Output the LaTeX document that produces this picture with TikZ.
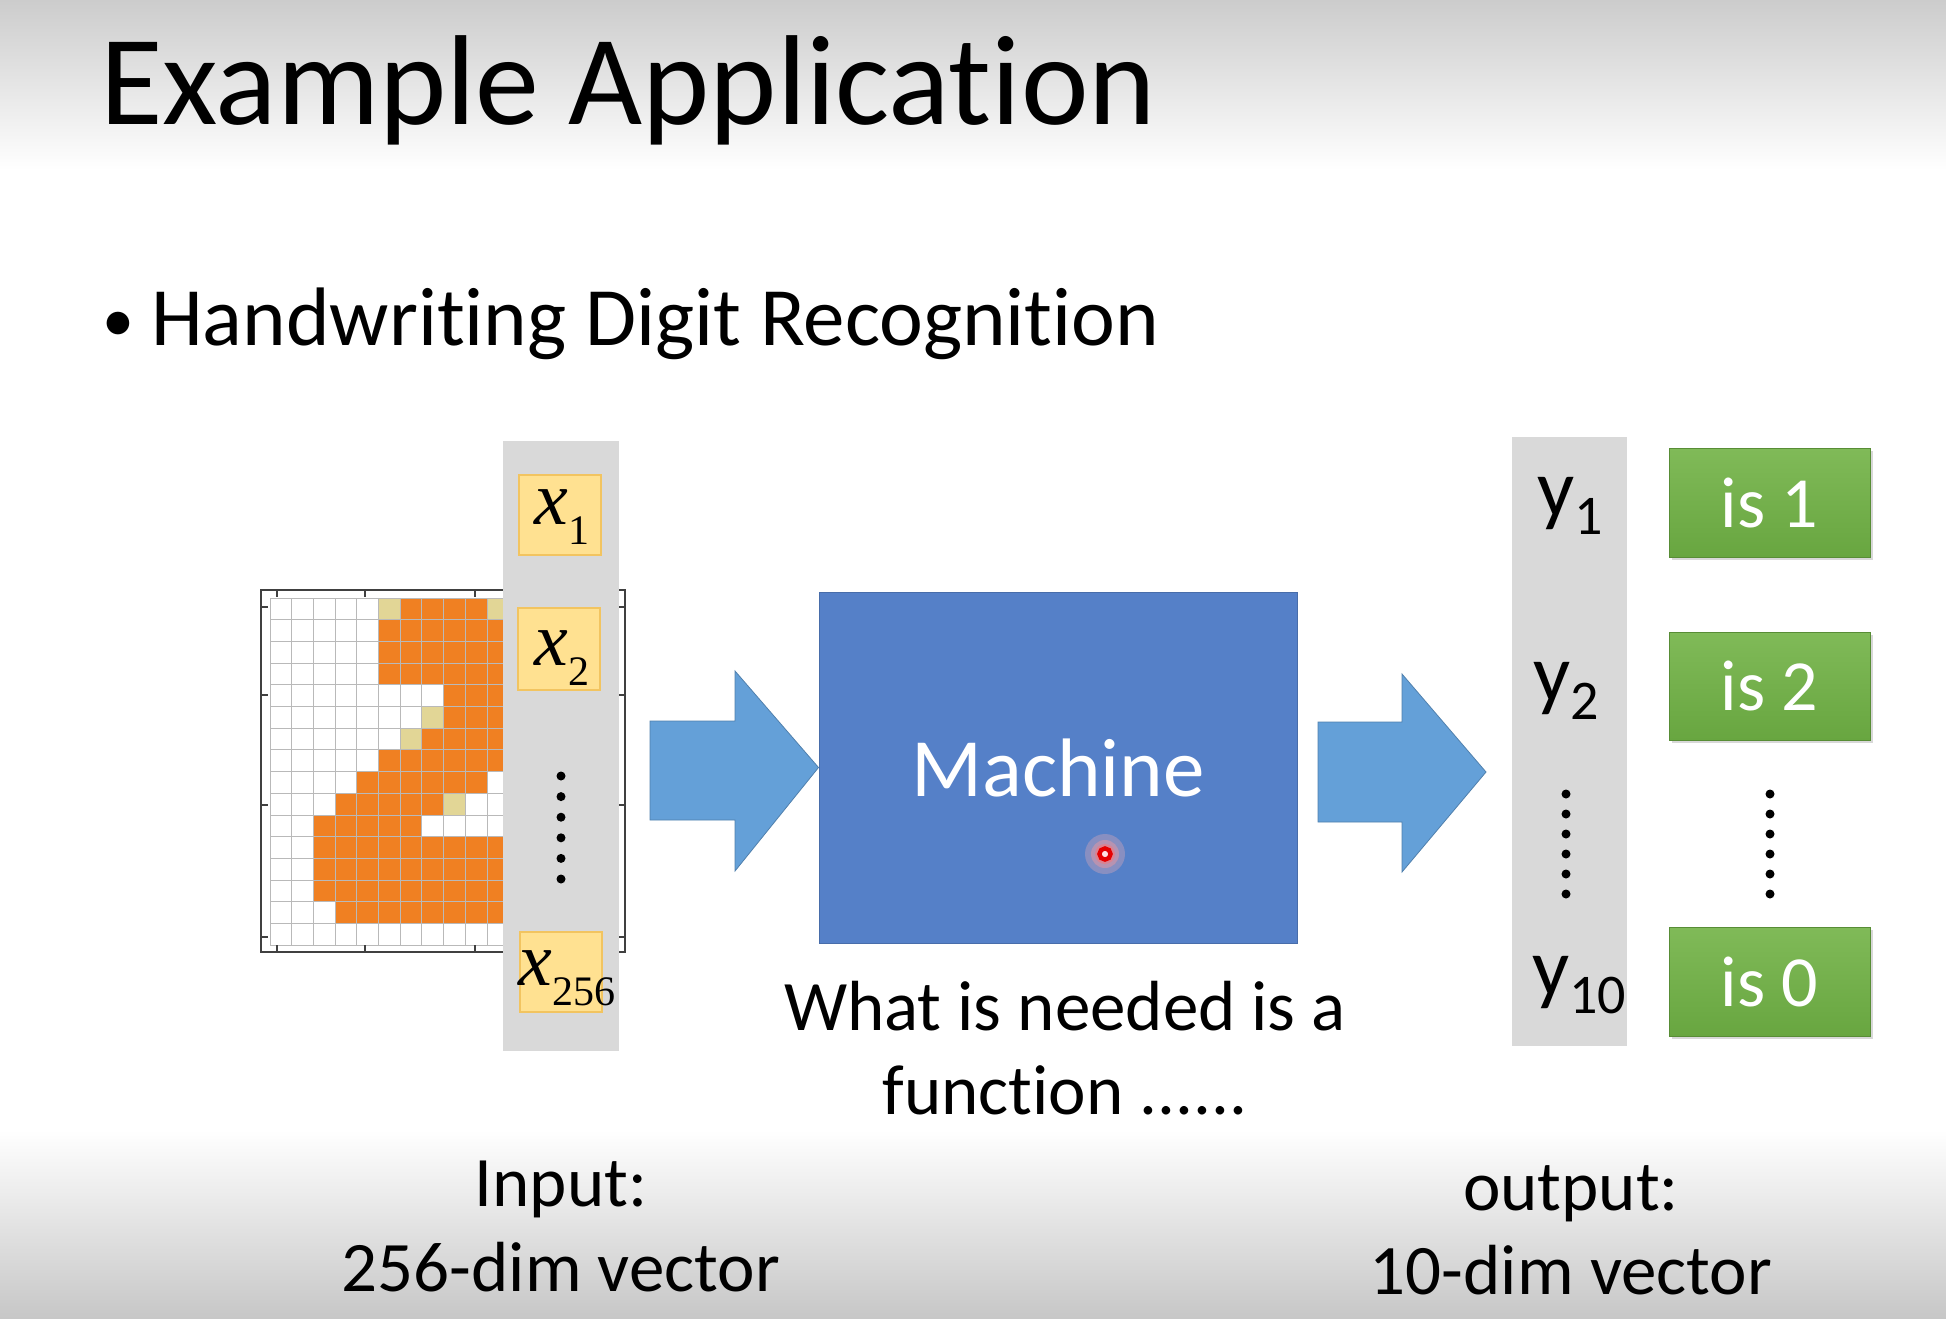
\documentclass[tikz,border=0pt]{standalone}
\usepackage{fontspec}
\setmainfont{Carlito}[Ligatures=NoCommon]
\newfontfamily\timesfont{Liberation Serif}
\usetikzlibrary{shadows}

\definecolor{pxorange}{RGB}{240,128,34}
\definecolor{pxpale}{RGB}{226,214,150}
\definecolor{pxline}{RGB}{185,185,185}
\definecolor{colgray}{RGB}{217,217,217}
\definecolor{xfill}{RGB}{255,225,145}
\definecolor{xedge}{RGB}{242,196,96}
\definecolor{machineblue}{RGB}{85,128,200}
\definecolor{arrowblue}{RGB}{100,160,216}
\definecolor{greentop}{RGB}{128,186,88}
\definecolor{greenbot}{RGB}{104,166,64}

\newcommand{\fsz}[1]{\fontsize{#1}{#1}\selectfont}
\newcommand{\xvar}[1]{{\timesfont\itshape\fsz{76}x}\raisebox{-20pt}{\timesfont\fsz{42}#1}}
\newcommand{\yvar}[1]{{\fsz{82}y}\raisebox{-18pt}{\fsz{56}#1}}

\begin{document}
\begin{tikzpicture}[x=1pt,y=-1pt,
  txt/.style={inner sep=0pt, anchor=base, font=\fsz{71}},
  graycol/.style={fill=colgray, draw=none, inner sep=0pt},
  xbox/.style={fill=xfill, draw=xedge, line width=1.2pt, minimum width=82pt, minimum height=80pt, inner sep=0pt},
  xlab/.style={inner sep=0pt, anchor=base},
  ylab/.style={inner sep=0pt, anchor=base},
  greenbox/.style={top color=greentop, bottom color=greenbot, draw=greenbot!85!black, line width=0.6pt,
    minimum width=201pt, minimum height=108pt, inner sep=0pt, text=white, font=\fsz{72},
    drop shadow={opacity=0.3, shadow xshift=3pt, shadow yshift=-3pt}},
  machinebox/.style={fill=machineblue, draw=machineblue!85!black, line width=1pt,
    minimum width=478pt, minimum height=351pt, inner sep=0pt, text=white, font=\fsz{83}},
  blockarrow/.style={fill=arrowblue, draw=arrowblue!80!black, line width=0.8pt, line join=miter},
  dotmark/.style={fill=black},
  gridline/.style={draw=pxline, line width=0.9pt},
  axisframe/.style={draw=black!75, line width=1.6pt}
]

% page background with grey fades at the top and bottom
\fill[white] (0,0) rectangle (1946,1318);
\shade[top color=black!20, bottom color=white] (0,0) rectangle (1946,170);
\shade[top color=white, bottom color=black!22] (0,1130) rectangle (1946,1318);
\useasboundingbox (0,0) rectangle (1946,1318);

% headings
\node[inner sep=0pt, anchor=base west, font=\fsz{128}] (title) at (100,124) {Example Application};
\node[inner sep=0pt, anchor=base west, font=\fsz{83}] (bullet) at (102,345)
  {\makebox[49pt][l]{\raisebox{4pt}{\fsz{64}•}}Handwriting Digit Recognition};

% 16x16 pixel image of the digit
\begin{scope}[shift={(270,598)}]
  \def\cs{21.7}
  \foreach \r/\a/\b in {0/6/9, 1/5/10, 2/5/10, 3/5/10, 4/8/10, 5/8/10, 6/7/10, 7/5/10,
                        8/4/9, 9/3/7, 10/2/6, 11/2/10, 12/2/10, 13/2/10, 14/3/10}
    \fill[pxorange] ({\a*\cs},{\r*\cs}) rectangle ({(\b+1)*\cs},{(\r+1)*\cs});
  \foreach \r/\a in {0/5, 0/10, 5/7, 6/6, 9/8}
    \fill[pxpale] ({\a*\cs},{\r*\cs}) rectangle ({(\a+1)*\cs},{(\r+1)*\cs});
  \foreach \i in {0,...,16} {
    \draw[gridline] ({\i*\cs},0) -- ({\i*\cs},{16*\cs});
    \draw[gridline] (0,{\i*\cs}) -- ({16*\cs},{\i*\cs});
  }
\end{scope}
\draw[axisframe] (261,590) rectangle (625,952);
\foreach \tx in {277,365,475} {
  \draw[axisframe, line width=1.2pt] (\tx,590) -- (\tx,597);
  \draw[axisframe, line width=1.2pt] (\tx,952) -- (\tx,945);
}
\foreach \ty in {607,695,805,937} {
  \draw[axisframe, line width=1.2pt] (261,\ty) -- (268,\ty);
  \draw[axisframe, line width=1.2pt] (625,\ty) -- (618,\ty);
}

% input vector column
\node[graycol, minimum width=116pt, minimum height=610pt] (xcol) at (561,746) {};
\node[xbox] (x1) at (560,515) {};
\node[xbox, minimum height=82pt] (x2) at (559,649) {};
\node[xbox] (x256) at (561,972) {};
\node[xlab] (x1lab) at (562,524) {\xvar{1}};
\node[xlab] (x2lab) at (562,665) {\xvar{2}};
\node[xlab] (x256lab) at (567,985) {\xvar{256}};
\foreach \k in {0,...,5} \fill[dotmark] (561,{776+20.6*\k}) circle (4.5);

% the machine
\node[machinebox] (machine) at (1058,767.5) {Machine};

% pointer spot on the machine
\fill[red!30, opacity=0.3] (1105,854) circle (20);
\fill[red!40, opacity=0.4] (1105,854) circle (14);
\fill[red!55, opacity=0.5] (1105,854) circle (10);
\draw[red!90!black, line width=4.5pt] (1105,854) circle (5.5);
\fill[red!12] (1105,854) circle (3);

% block arrows into and out of the machine
\draw[blockarrow] (650,721) -- (735,721) -- (735,671) -- (machine.west)
  -- (735,871) -- (735,820) -- (650,820) -- cycle;
\coordinate (tip2) at (1486,772);
\draw[blockarrow] (1318,722) -- (1402,722) -- (1402,674) -- (tip2)
  -- (1402,872) -- (1402,822) -- (1318,822) -- cycle;

% output vector column
\node[graycol, minimum width=115pt, minimum height=609pt] (ycol) at (1569.5,741.5) {};
\node[ylab] (y1) at (1570,516) {\yvar{1}};
\node[ylab] (y2) at (1566,701) {\yvar{2}};
\node[ylab] (y10) at (1579,995) {\yvar{10}};
\foreach \k in {0,...,5} \fill[dotmark] (1566,{794+20*\k}) circle (4.5);

% class boxes
\node[greenbox, minimum height=109pt] (g1) at (1769.5,502.5) {is 1};
\node[greenbox] (g2) at (1769.5,686) {is 2};
\node[greenbox, minimum height=109pt] (g0) at (1769.5,981.5) {is 0};
\foreach \k in {0,...,5} \fill[dotmark] (1770,{794+20*\k}) circle (4.5);

% captions
\node[txt] (need1) at (1065,1030) {What is needed is a};
\node[txt] (need2) at (1065,1114) {function ......};
\node[txt] (in1) at (561,1206) {Input:};
\node[txt] (in2) at (561,1291) {256-dim vector};
\node[txt] (out1) at (1571,1210) {output:};
\node[txt] (out2) at (1571,1294) {10-dim vector};

\end{tikzpicture}
\end{document}
